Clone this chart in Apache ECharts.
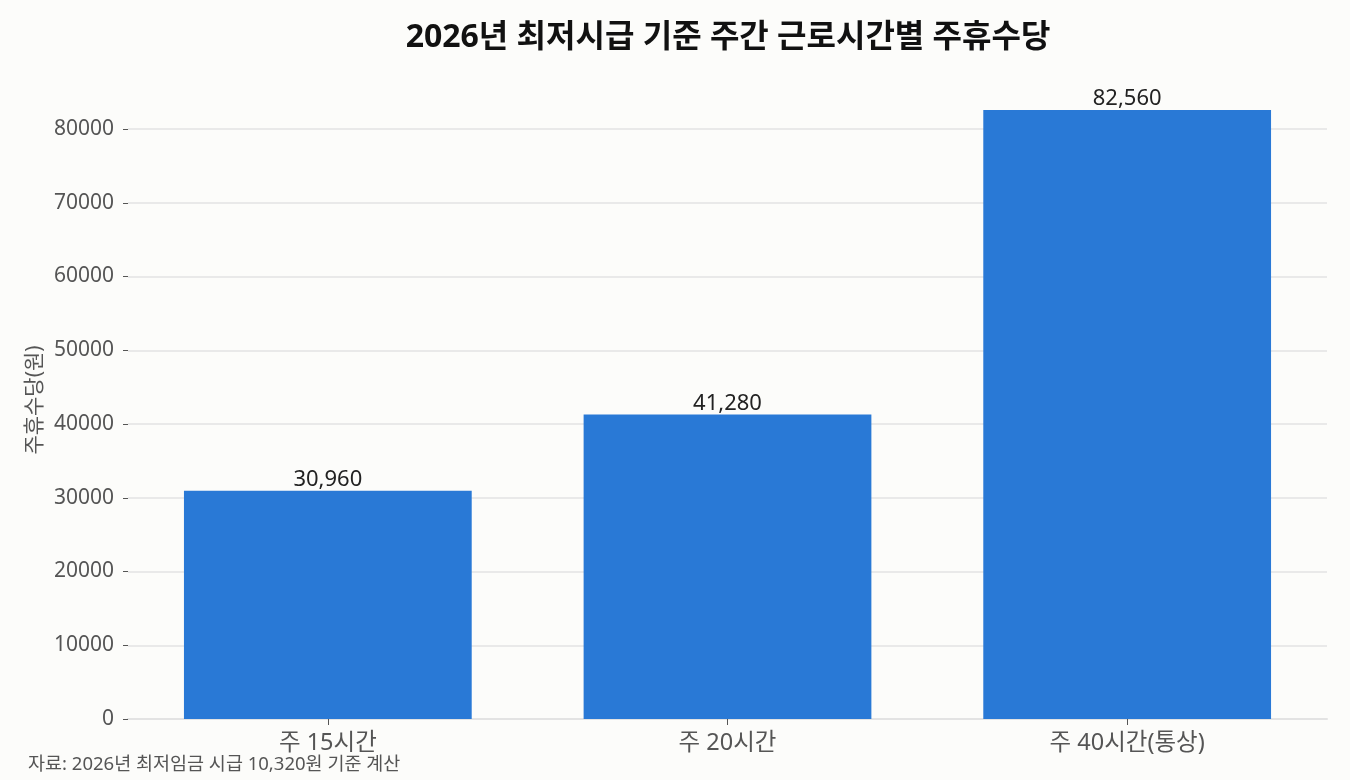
<!DOCTYPE html>
<html>
<head>
<meta charset="utf-8">
<script src="https://cdn.jsdelivr.net/npm/echarts@6/dist/echarts.min.js"></script>
<style>
  html, body { margin: 0; padding: 0; background: #fcfcfa; }
  #main { width: 1350px; height: 780px; }
</style>
</head>
<body>
<div id="main"></div>
<script>
// 데이터
var categories = ['주 15시간', '주 20시간', '주 40시간(통상)'];
var allowance = [30960, 41280, 82560];
var yTicks = [0, 10000, 20000, 30000, 40000, 50000, 60000, 70000, 80000];

var font = '"Noto Sans", "Noto Sans CJK KR", sans-serif';

var chart = echarts.init(document.getElementById('main'));
chart.setOption({
    backgroundColor: '#fcfcfa',
    textStyle: { fontFamily: font },
    graphic: [{
        // 제목: 플롯 영역 가운데 정렬
        type: 'text',
        x: 728,
        y: 38,
        style: {
            text: '2026년 최저시급 기준 주간 근로시간별 주휴수당',
            fontSize: 32, fontWeight: 'bold', fill: '#111', fontFamily: font,
            textAlign: 'center', textVerticalAlign: 'middle'
        }
    }, {
        type: 'text',
        x: 35,
        y: 400,
        rotation: Math.PI / 2,
        style: {
            text: '주휴수당(원)',
            fontSize: 21, fill: '#555', fontFamily: font,
            textAlign: 'center', textVerticalAlign: 'middle'
        }
    }, {
        type: 'text',
        left: 28,
        top: 755,
        style: { text: '자료: 2026년 최저임금 시급 10,320원 기준 계산', fontSize: 18.5, fill: '#555', fontFamily: font }
    }],
    // 80000 눈금선이 격자 상단, 막대는 clip 없이 위로 넘어감
    grid: { left: 128, right: 23, top: 129, bottom: 61 },
    xAxis: {
        type: 'category',
        data: categories,
        axisLine: { show: true, lineStyle: { color: '#e3e3e3', width: 2 } },
        axisTick: { show: true, alignWithLabel: true, length: 6, lineStyle: { color: '#555' } },
        axisLabel: { fontSize: 23.5, color: '#555', margin: 13, fontFamily: font }
    },
    yAxis: {
        type: 'value',
        min: 0,
        max: 80000,
        interval: 10000,
        axisLine: { show: false },
        axisTick: { show: true, length: 5, lineStyle: { color: '#555' } },
        splitLine: { lineStyle: { color: '#e3e3e3', width: 1.5 } },
        axisLabel: {
            fontSize: 21, color: '#555', margin: 14, fontFamily: font,
            formatter: function (v) { return yTicks.indexOf(v) >= 0 ? String(v) : ''; }
        }
    },
    series: [{
        type: 'bar',
        data: allowance,
        barWidth: '72%',
        clip: false,
        itemStyle: { color: '#2979d6' },
        label: {
            show: true,
            position: 'top',
            distance: 0,
            fontSize: 22,
            color: '#222',
            fontFamily: font,
            formatter: function (p) { return p.value.toLocaleString('en-US'); }
        }
    }]
});
</script>
</body>
</html>
